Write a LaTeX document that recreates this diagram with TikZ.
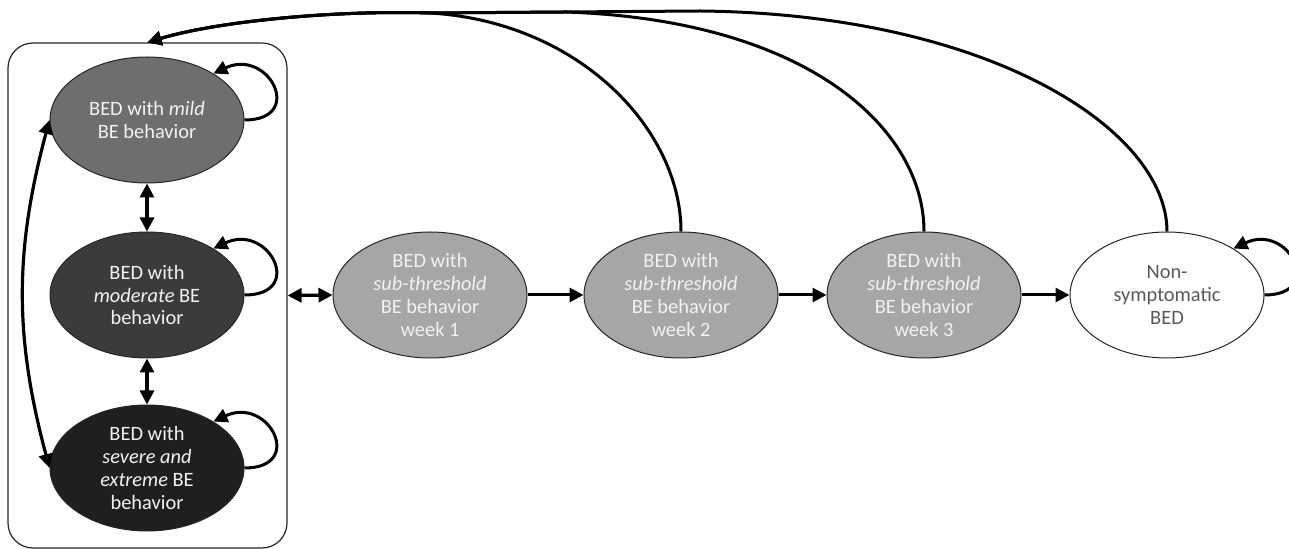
\documentclass[tikz,border=0pt]{standalone}
\usepackage{fontspec}
\setmainfont{Carlito}
\usetikzlibrary{shapes.geometric,arrows.meta}
\definecolor{mildgray}{HTML}{6E6E6E}
\definecolor{modgray}{HTML}{3B3B3B}
\definecolor{sevgray}{HTML}{1F1F1F}
\definecolor{subgray}{HTML}{A6A6A6}
\definecolor{lighttext}{HTML}{F2F2F2}
\definecolor{darktext}{HTML}{595959}

\begin{document}
\begin{tikzpicture}[x=0.5pt,y=-0.5pt,
  state/.style={ellipse,draw=black!85,line width=0.5pt,minimum width=97pt,
    minimum height=63pt,inner sep=0pt,align=center,text=lighttext,
    font=\fontsize{10.2}{11.4}\selectfont},
  link/.style={line width=1.5pt,-{Triangle[length=7pt,width=7pt]}},
  twoway/.style={line width=1.6pt,
    {Triangle[length=7pt,width=7pt]}-{Triangle[length=7pt,width=7pt]}},
  selfloop/.style={link,out=0,in=25,looseness=2.8}]
  \useasboundingbox (0,0) rectangle (1289,549);
  % BED states in the box
  \node[draw=black!85,line width=0.6pt,rounded corners=12.5pt,
    minimum width=139.5pt,minimum height=252.5pt] (G) at (147.5,295.5) {};
  \node[state,fill=mildgray] (mild)   at (147,120) {BED with \textit{mild}\\BE behavior};
  \node[state,fill=modgray]  (mod)    at (147,295) {BED with\\\textit{moderate} BE\\behavior};
  \node[state,fill=sevgray]  (sev)    at (147,468) {BED with\\\textit{severe and}\\\textit{extreme} BE\\behavior};
  % sub-threshold weeks and recovery
  \node[state,fill=subgray]  (wk1)    at (430,295) {BED with\\\textit{sub-threshold}\\BE behavior\\week 1};
  \node[state,fill=subgray]  (wk2)    at (681,295) {BED with\\\textit{sub-threshold}\\BE behavior\\week 2};
  \node[state,fill=subgray]  (wk3)    at (924,295) {BED with\\\textit{sub-threshold}\\BE behavior\\week 3};
  \node[state,fill=white,text=darktext] (nonsym) at (1167,295) {Non-\\symptomatic\\BED};
  \coordinate (m1) at (430,13);
  \coordinate (m2) at (565,12);
  \coordinate (m3) at (700,11);

  \draw[twoway] (mild.south) -- (mod.north);
  \draw[twoway] (mod.south) -- (sev.north);
  \draw[twoway] (mild.west) to[out=-105,in=105] (sev.west);
  \draw[twoway] (G.east) -- (wk1.west);
  \draw[link] (wk1.east) -- (wk2.west);
  \draw[link] (wk2.east) -- (wk3.west);
  \draw[link] (wk3.east) -- (nonsym.west);
  \draw[selfloop] (mild.0) to (mild.35);
  \draw[selfloop] (mod.0) to (mod.35);
  \draw[selfloop] (sev.0) to (sev.35);
  \draw[selfloop] (nonsym.0) to (nonsym.35);
  % returns to the box
  \draw[link] (wk2.north) .. controls (681,130) and (580,22) .. (m1)
    .. controls (330,10) and (215,22) .. (G.north);
  \draw[link] (wk3.north) .. controls (924,130) and (810,20) .. (m2) -- (m1)
    .. controls (330,10) and (215,22) .. (G.north);
  \draw[link] (nonsym.north) .. controls (1167,130) and (990,14) .. (m3) -- (m2) -- (m1)
    .. controls (330,10) and (215,22) .. (G.north);
\end{tikzpicture}
\end{document}
